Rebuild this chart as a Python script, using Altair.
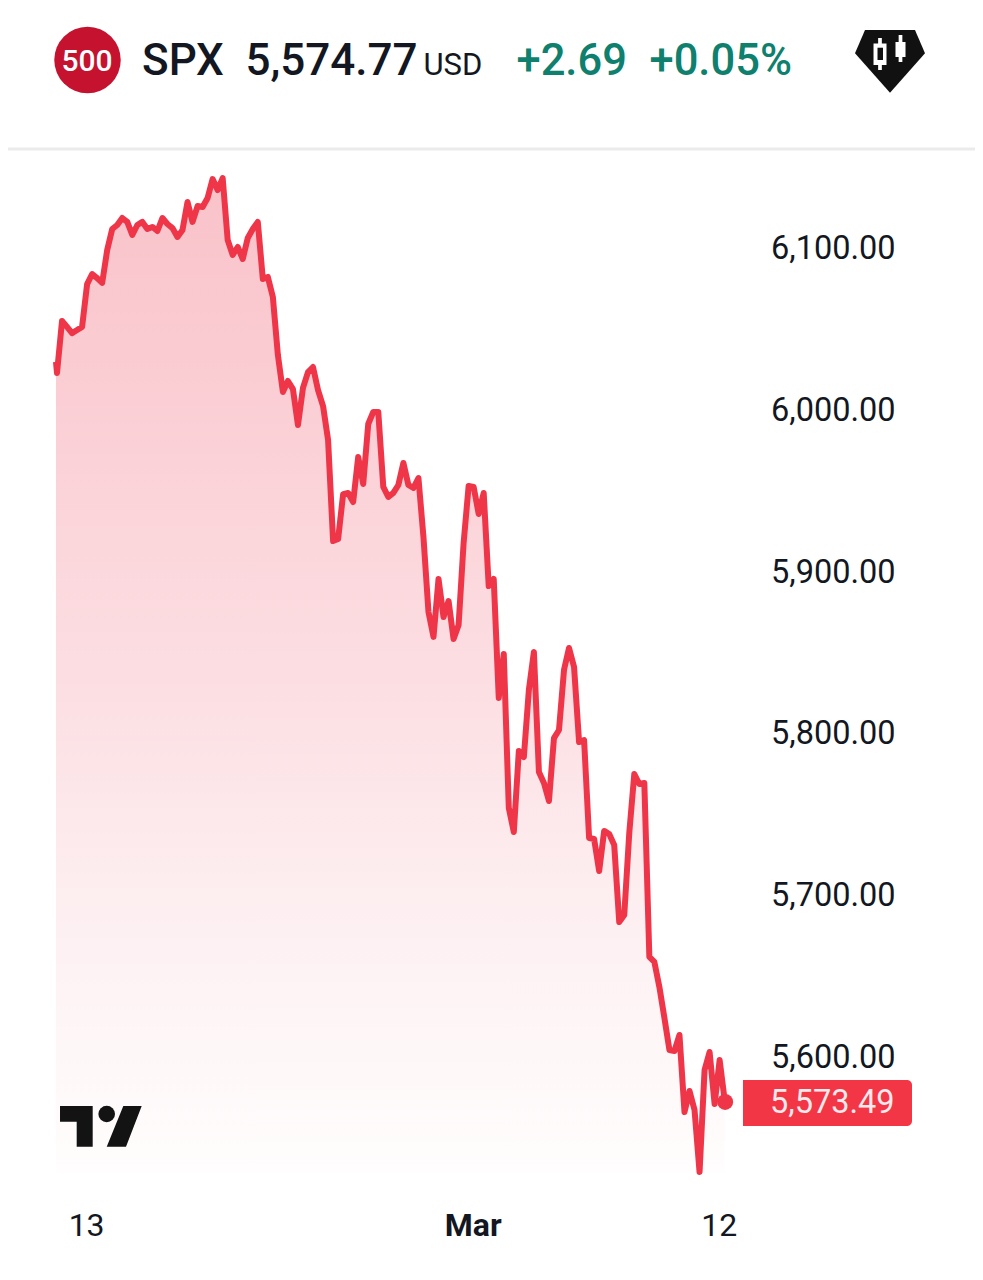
import altair as alt
import pandas as pd

# price series, one value per regular bar
prices = [6029.0, 6022.1, 6054.3, 6050.6, 6046.8, 6048.7, 6050.6, 6077.1, 6083.3, 6080.8, 6077.8,
          6098.1, 6111.1, 6113.6, 6117.9, 6115.5, 6107.4, 6113.6, 6115.5, 6111.1, 6112.4,
          6109.9, 6117.9, 6114.2, 6111.7, 6106.2, 6110.5, 6127.8, 6115.5, 6125.3, 6124.7,
          6130.3, 6142.0, 6135.2, 6142.6, 6104.3, 6095.1, 6100.0, 6092.6, 6105.6, 6111.1,
          6115.5, 6080.2, 6081.5, 6069.1, 6033.3, 6010.4, 6017.2, 6012.2, 5990.0, 6012.9,
          6022.7, 6025.8, 6011.6, 6001.7, 5980.7, 5918.3, 5919.5, 5947.3, 5948.0, 5942.4,
          5970.2, 5953.5, 5990.6, 5998.0, 5998.0, 5951.7, 5945.5, 5948.0, 5952.9, 5966.5,
          5952.9, 5951.1, 5957.2, 5920.8, 5874.4, 5859.0, 5894.8, 5871.3, 5881.2, 5857.7,
          5866.4, 5917.1, 5952.3, 5951.7, 5935.0, 5948.0, 5890.5, 5894.8, 5821.3, 5848.5,
          5753.3, 5738.4, 5788.5, 5784.8, 5826.2, 5849.7, 5775.5, 5768.7, 5757.6, 5796.5,
          5801.5, 5838.6, 5852.2, 5840.4, 5794.1, 5795.3, 5734.7, 5734.1, 5714.3, 5739.1,
          5737.2, 5730.4, 5682.8, 5687.1, 5737.8, 5774.3, 5768.1, 5768.7, 5661.2, 5658.1,
          5642.6, 5623.5, 5603.7, 5603.1, 5613.0, 5565.4, 5578.4, 5566.6, 5528.3, 5591.3,
          5602.5, 5570.3, 5597.5, 5572.8]
bars = [-0.2] + list(range(len(prices) - 1))

y_ticks = [6100, 6000, 5900, 5800, 5700, 5600]
x_ticks = [6, 83, 132]
area_floor = 5528
last_bar = 133.1
last_price = 5571.6

header_symbol = "SPX"
header_price = "5,574.77"
header_unit = "USD"
header_change = "+2.69"
header_percent = "+0.05%"
badge_text = "500"
last_label = "5,573.49"

RED = "#f23645"
LINE_RED = "#ef3548"
INK = "#131722"
GREEN = "#0f7f6e"
FONT = "Roboto"

W, H = 967, 1264
x_scale = alt.Scale(domain=[-9.761, 182.87], range=[0, W], nice=False, zero=False)
y_scale = alt.Scale(domain=[5466.5, 6247.71], range=[H, 0], nice=False, zero=False)

x_enc = alt.X("bar:Q", scale=x_scale, axis=alt.Axis(
    values=x_ticks, orient="bottom", offset=-47, domain=False, ticks=False, grid=False, title=None,
    labelExpr="datum.value == 6 ? '13' : datum.value == 83 ? 'Mar' : '12'",
    labelFont=FONT, labelFontSize=32, labelColor=INK, labelBaseline="middle", labelPadding=0,
    labelOffset=-1, labelAlign="center", labelFlush=False, labelOverlap=False,
    labelFontWeight={"condition": {"test": "datum.value == 83", "value": 700}, "value": 400},
))
y_enc = alt.Y("price:Q", scale=y_scale, axis=alt.Axis(
    values=y_ticks, orient="right", offset=-204.5, domain=False, ticks=False, grid=False, title=None,
    format=",.2f", labelFont=FONT, labelFontSize=32.5, labelColor=INK, labelAlign="left",
    labelOffset=1.5, labelBaseline="middle", labelPadding=0, labelFlush=False, labelOverlap=False,
))

df = pd.DataFrame({"bar": bars, "price": prices, "floor": area_floor})

area = alt.Chart(df).mark_area(
    color=alt.Gradient(
        gradient="linear", x1=0, x2=0, y1=0, y2=1,
        stops=[alt.GradientStop(color="#f9c2c9", offset=0),
               alt.GradientStop(color="#fcdfe3", offset=0.52),
               alt.GradientStop(color="#fdeef0", offset=0.72),
               alt.GradientStop(color="#fef7f8", offset=0.88),
               alt.GradientStop(color="#fffdfd", offset=1)],
    )
).encode(x=x_enc, y=y_enc, y2="floor:Q")

line = alt.Chart(df).mark_line(
    color=LINE_RED, strokeWidth=6, strokeJoin="round", strokeCap="butt", interpolate="linear"
).encode(x=x_enc, y=y_enc)

dot_df = pd.DataFrame({"bar": [last_bar], "price": [last_price]})
dot = alt.Chart(dot_df).mark_point(filled=True, shape="circle", size=256, color=LINE_RED, opacity=1).encode(
    x=x_enc, y=y_enc
)


def anchor(px, py):
    return dict(x=alt.value(px - 8), y=alt.value(py - 8))


def label(text, px, py, size, color=INK, weight=400, align="left"):
    return alt.Chart(pd.DataFrame({"t": [text]})).mark_text(
        font=FONT, fontSize=size, fontWeight=weight, color=color, align=align, baseline="alphabetic"
    ).encode(text="t:N", **anchor(px, py))


def symbol(shape, px, py, size, color):
    return alt.Chart(pd.DataFrame({"k": [0]})).mark_point(
        filled=True, shape=shape, size=size, color=color, opacity=1, strokeWidth=0
    ).encode(**anchor(px, py))


divider = alt.Chart(pd.DataFrame({"k": [0]})).mark_rule(color="#ebebeb", strokeWidth=3).encode(
    x=alt.value(0), x2=alt.value(W), y=alt.value(149 - 8)
)

tag = alt.Chart(pd.DataFrame({"k": [0]})).mark_rect(
    color=RED, cornerRadiusTopRight=5, cornerRadiusBottomRight=5
).encode(
    x=alt.value(743 - 8), x2=alt.value(912 - 8), y=alt.value(1080 - 8), y2=alt.value(1126 - 8)
)

badge = symbol("circle", 87.5, 60, 4422, "#c4122f")

shield = "M-.714,-.857L.714,-.857L1,-.19L0,.934L-1,-.19Z"
candles_white = ("M-.339,-.629L-.233,-.629L-.233,-.471L-.1,-.471L-.1,.143L-.233,.143L-.233,.286"
                 "L-.339,.286L-.339,.143L-.471,.143L-.471,-.471L-.339,-.471Z"
                 "M.247,-.714L.353,-.714L.353,-.514L.443,-.514L.443,-.086L.353,-.086L.353,.057"
                 "L.247,.057L.247,-.086L.157,-.086L.157,-.514L.247,-.514Z")
candle_hole = "M-.357,-.351L-.2,-.351L-.2,0L-.357,0Z"
tv_mark = ("M-.952,-.476L-.174,-.476L-.174,.493L-.555,.493L-.555,-.102L-.952,-.102Z"
           "M.555,-.476L.993,-.476L.619,.493L.16,.493Z")

chart = alt.layer(
    area, line, dot,
    divider,
    badge,
    label(badge_text, 87, 70.5, 30, "#ffffff", 500, "center"),
    label(header_symbol, 142, 75, 44, INK, 500),
    label(header_price, 245.5, 75, 44, INK, 500),
    label(header_unit, 423.5, 75, 31, INK, 400),
    label(header_change, 516.5, 75, 43.5, GREEN, 500),
    label(header_percent, 649.5, 75, 43.5, GREEN, 500),
    symbol(shield, 890, 60, 4900, "#111111"),
    symbol(candles_white, 890, 60, 4900, "#ffffff"),
    symbol(candle_hole, 890, 60, 4900, "#111111"),
    symbol(tv_mark, 100, 1126, 7056, "#131313"),
    symbol("circle", 106.7, 1114, 276, "#131313"),
    tag,
    label(last_label, 770, 1113, 32.5, "#ffe9ec", 400),
).properties(
    width=W, height=H, padding=0, autosize=alt.AutoSizeParams(type="none"), background="#ffffff"
).configure_view(stroke=None)

chart.save("out.html", embed_options={"renderer": "svg", "actions": False})
